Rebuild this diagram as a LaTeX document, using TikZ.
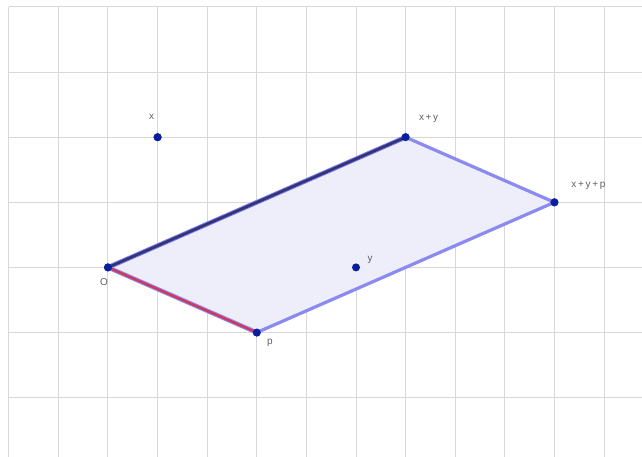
\documentclass[tikz,border=0pt]{standalone}
\usepackage{fontspec}
\setsansfont{Liberation Sans}
\definecolor{gridc}{HTML}{D8D8D8}
\definecolor{fillc}{HTML}{EEEEFB}
\definecolor{edgec}{HTML}{8A8AF0}
\definecolor{navy}{HTML}{34346E}
\definecolor{redv}{HTML}{D03858}
\definecolor{dotc}{HTML}{0A1E9E}
\definecolor{labc}{HTML}{606060}
\begin{document}
\begin{tikzpicture}[x=49.6pt,y=65.1pt,
  pt/.style={circle,fill=dotc,inner sep=0pt,minimum size=8pt},
  lab/.style={text=labc,font=\sffamily\fontsize{10}{11}\selectfont,inner sep=0pt},
  edge/.style={draw=edgec,line width=3.2pt,line cap=round}]
\useasboundingbox (-2.1774,-2.9124) rectangle (10.7661,4.1075);
% grid
\foreach \i in {-2,...,10} \draw[gridc,line width=1pt] (\i,-2.9124) -- (\i,4);
\foreach \j in {-2,...,4} \draw[gridc,line width=1pt] (-2,\j) -- (10.7661,\j);
% points
\node[pt] (O) at (0,0) {};
\node[pt] (x) at (1,2) {};
\node[pt] (xy) at (6,2) {};
\node[pt] (xyp) at (9,1) {};
\node[pt] (y) at (5,0) {};
\node[pt] (p) at (3,-1) {};
% parallelogram
\fill[fillc] (O.center) -- (xy.center) -- (xyp.center) -- (p.center) -- cycle;
\draw[edge] (xy.center) -- (xyp.center);
\draw[edge] (xyp.center) -- (p.center);
\draw[edge,draw=edgec!85!blue,line width=4.6pt] (O.center) -- (xy.center);
\draw[edge,line width=4.4pt] (O.center) -- (p.center);
\draw[navy,line width=2.6pt,line cap=round] (O.center) -- (xy.center);
\draw[redv,line width=2.4pt,line cap=round] (O.center) -- (p.center);
% redraw dots on top
\foreach \n in {O,x,xy,xyp,y,p} \fill[dotc] (\n) circle (4pt);
% labels
\node[lab] (lx) at ([xshift=-6pt,yshift=20pt]x.center) {x};
\node[lab] (lxy) at ([xshift=23pt,yshift=19pt]xy.center) {x\,+\,y};
\node[lab] (lxyp) at ([xshift=34pt,yshift=17pt]xyp.center) {x\,+\,y\,+\,p};
\node[lab] (ly) at ([xshift=14pt,yshift=8pt]y.center) {y};
\node[lab] (lO) at ([xshift=-4pt,yshift=-15pt]O.center) {O};
\node[lab] (lp) at ([xshift=13pt,yshift=-10pt]p.center) {p};
\end{tikzpicture}
\end{document}
